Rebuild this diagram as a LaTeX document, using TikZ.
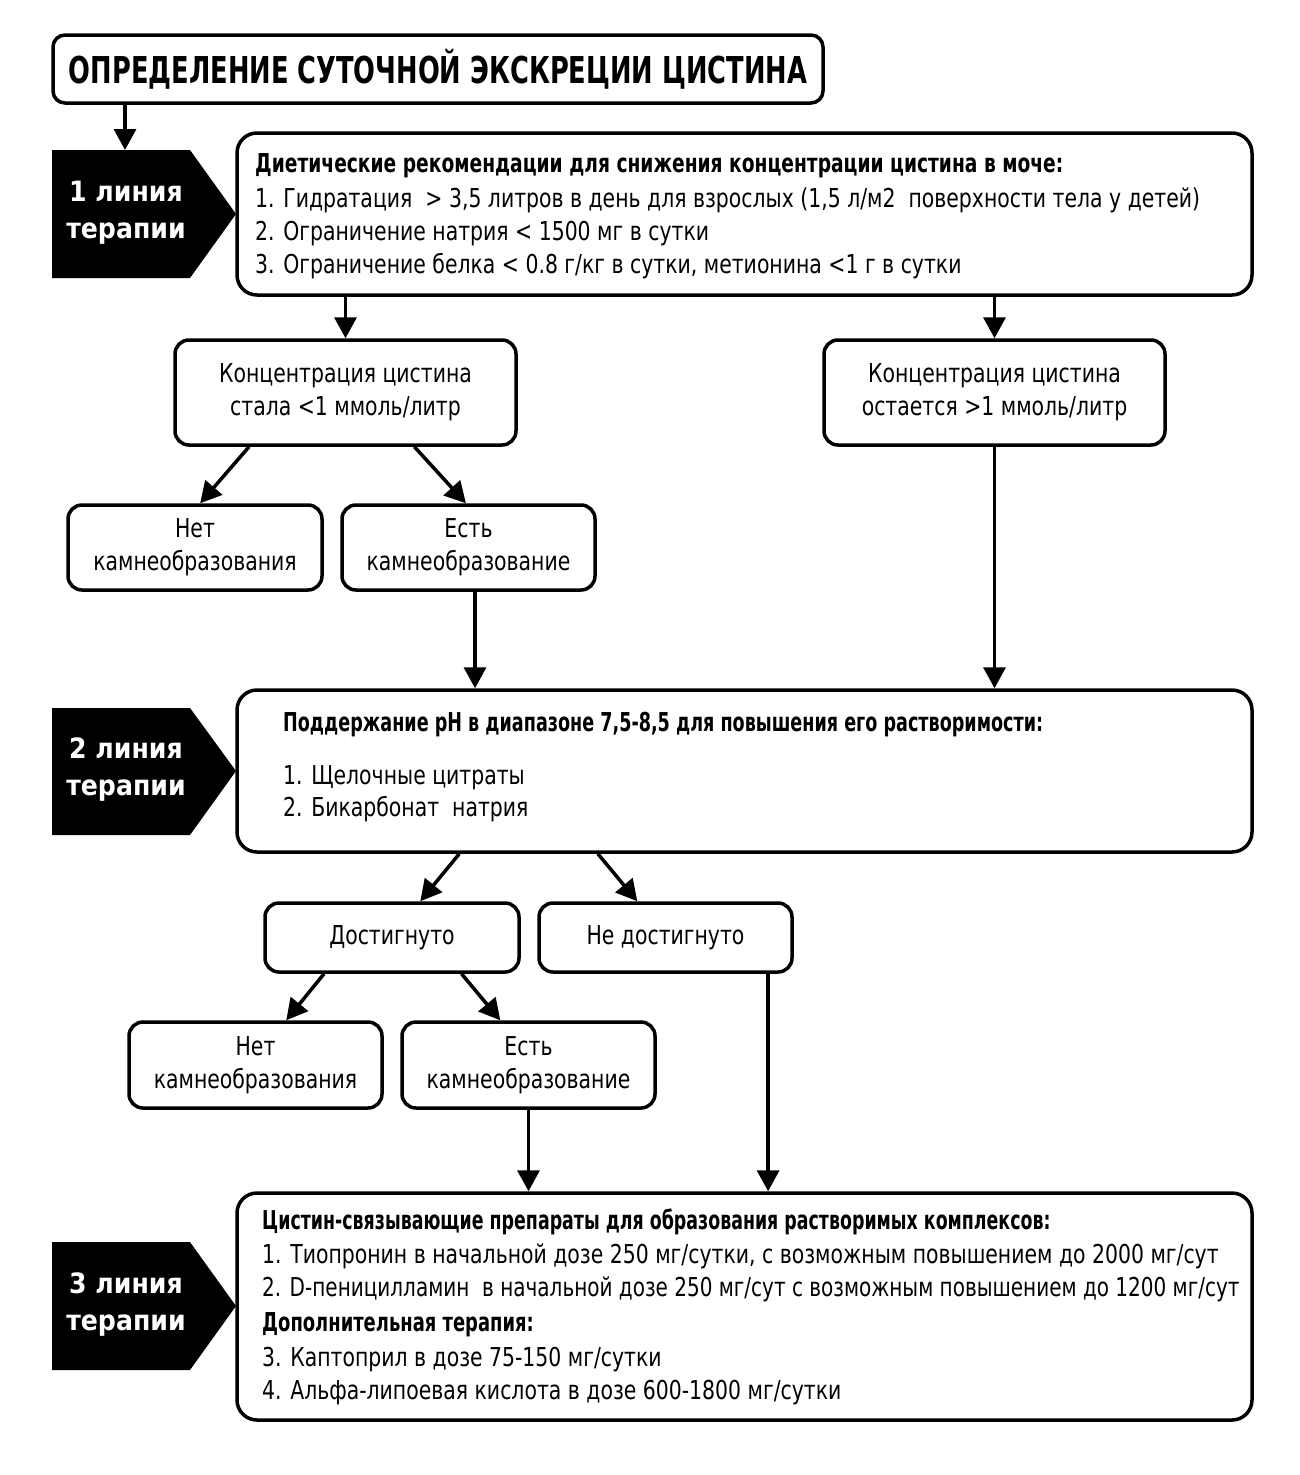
\documentclass[tikz,border=0pt]{standalone}
\usepackage{fontspec}
\setmainfont{DejaVu Sans}
\newfontfamily\regf{DejaVu Sans}[FakeStretch=0.785]
\newfontfamily\hdf{DejaVu Sans}[FakeStretch=0.69]
\newfontfamily\tlf{DejaVu Sans}[FakeStretch=0.695]
\newfontfamily\lnf{DejaVu Sans}[FakeStretch=0.9]
\usetikzlibrary{arrows.meta,calc}
\begin{document}
\begin{tikzpicture}[x=1pt,y=-1pt,
  box/.style={draw=black,line width=3.5pt,rounded corners=14pt,fill=white,inner sep=0pt},
  bigbox/.style={box,rounded corners=20pt},
  arr/.style={line width=3.5pt,-{Triangle[length=21pt,width=22pt]}},
  tx/.style={anchor=base west,inner sep=0pt,font=\regf\fontsize{26}{33}\selectfont},
  hd/.style={anchor=base west,inner sep=0pt,font=\hdf\bfseries\fontsize{26}{33}\selectfont},
  ctx/.style={align=center,font=\regf\fontsize{26}{33}\selectfont},
  lbl/.style={align=center,text=white,inner sep=0pt,font=\lnf\bfseries\fontsize{28}{37}\selectfont},
  pent/.style={fill=black}
]
\useasboundingbox (0,0) rectangle (1300,1475);

% boxes
\node[box,rounded corners=12pt,minimum width=770pt,minimum height=68pt,font=\tlf\bfseries\fontsize{37}{40}\selectfont] (title) at (438,69) {ОПРЕДЕЛЕНИЕ СУТОЧНОЙ ЭКСКРЕЦИИ ЦИСТИНА};
\node[bigbox,minimum width=1015pt,minimum height=162pt] (b1) at (744.5,214) {};
\node[box,minimum width=341pt,minimum height=105pt,ctx] (c1) at (345.5,392.5) {Концентрация цистина\\стала <1 ммоль/литр};
\node[box,minimum width=341pt,minimum height=105pt,ctx] (c2) at (994.5,392.5) {Концентрация цистина\\остается >1 ммоль/литр};
\node[box,minimum width=254pt,minimum height=85pt,ctx] (n1) at (195,547.5) {Нет\\камнеобразования};
\node[box,minimum width=253pt,minimum height=85pt,ctx] (e1) at (468.5,547.5) {Есть\\камнеобразование};
\node[bigbox,minimum width=1015pt,minimum height=162pt] (b2) at (744.5,771) {};
\node[box,minimum width=254pt,minimum height=69pt,ctx] (d1) at (392,937.5) {Достигнуто};
\node[box,minimum width=253pt,minimum height=69pt,ctx] (d2) at (665.5,937.5) {Не достигнуто};
\node[box,minimum width=253pt,minimum height=86pt,ctx] (n2) at (255.5,1065) {Нет\\камнеобразования};
\node[box,minimum width=253pt,minimum height=86pt,ctx] (e2) at (528.5,1065) {Есть\\камнеобразование};
\node[bigbox,minimum width=1015pt,minimum height=227pt] (b3) at (744.5,1306.5) {};

% pentagons
\fill[pent] (52,150) -- (190,150) -- (236,214) -- (190,278) -- (52,278) -- cycle;
\fill[pent] (52,708) -- (190,708) -- (236,771) -- (190,835) -- (52,835) -- cycle;
\fill[pent] (52,1242) -- (190,1242) -- (236,1306) -- (190,1370) -- (52,1370) -- cycle;
\node[lbl] (l1) at (126,213) {1 линия\\терапии};
\node[lbl] (l2) at (126,770) {2 линия\\терапии};
\node[lbl] (l3) at (126,1305) {3 линия\\терапии};
\coordinate (p1top) at (125,150);

% box 1 text
\node[hd] (b1h) at (255,172) {\scalebox{1.04}[1]{Диетические рекомендации для снижения концентрации цистина в моче:}};
\node[tx] (b1a) at (255,207) {1. Гидратация\ \ > 3,5 литров в день для взрослых (1,5 л/м2\ \ поверхности тела у детей)};
\node[tx] (b1b) at (255,240) {2. Ограничение натрия < 1500 мг в сутки};
\node[tx] (b1c) at (255,273) {3. Ограничение белка < 0.8 г/кг в сутки, метионина <1 г в сутки};

% box 2 text
\node[hd] (b2h) at (283,731) {\scalebox{0.98}[1]{Поддержание pH в диапазоне 7,5-8,5 для повышения его растворимости:}};
\node[tx] (b2a) at (283,784) {1. Щелочные цитраты};
\node[tx] (b2b) at (283,816) {2. Бикарбонат\ \ натрия};

% box 3 text
\node[hd] (b3h) at (262,1229) {\scalebox{0.97}[1]{Цистин-связывающие препараты для образования растворимых комплексов:}};
\node[tx] (b3a) at (262,1263) {1. Тиопронин в начальной дозе 250 мг/сутки, с возможным повышением до 2000 мг/сут};
\node[tx] (b3b) at (262,1296) {\scalebox{0.98}[1]{2. D-пеницилламин\ \ в начальной дозе 250 мг/сут с возможным повышением до 1200 мг/сут}};
\node[hd] (b3c) at (262,1331) {Дополнительная терапия:};
\node[tx] (b3d) at (262,1366) {3. Каптоприл в дозе 75-150 мг/сутки};
\node[tx] (b3e) at (262,1399) {4. Альфа-липоевая кислота в дозе 600-1800 мг/сутки};

% connectors
\draw[arr] (title.south -| p1top) -- (p1top);
\draw[arr] (b1.south -| c1.north) -- (c1.north);
\draw[arr] (b1.south -| c2.north) -- (c2.north);
\draw[arr] ($(c1.south west)!0.22!(c1.south east)$) -- ($(n1.north west)!0.52!(n1.north east)$);
\draw[arr] ($(c1.south west)!0.70!(c1.south east)$) -- ($(e1.north west)!0.49!(e1.north east)$);
\coordinate (e1o) at ($(e1.south)+(6.5,0)$);
\draw[arr] (e1o) -- (e1o |- b2.north);
\draw[arr] (c2.south) -- (c2.south |- b2.north);
\draw[arr] ($(b2.south west)!0.22!(b2.south east)$) -- ($(d1.north west)!0.61!(d1.north east)$);
\draw[arr] ($(b2.south west)!0.356!(b2.south east)$) -- ($(d2.north west)!0.39!(d2.north east)$);
\draw[arr] ($(d1.south west)!0.236!(d1.south east)$) -- ($(n2.north west)!0.62!(n2.north east)$);
\draw[arr] ($(d1.south west)!0.77!(d1.south east)$) -- ($(e2.north west)!0.39!(e2.north east)$);
\draw[arr] (e2.south) -- (e2.south |- b3.north);
\coordinate (d2o) at ($(d2.south west)!0.9!(d2.south east)$);
\draw[arr] (d2o) -- (d2o |- b3.north);
\end{tikzpicture}
\end{document}
